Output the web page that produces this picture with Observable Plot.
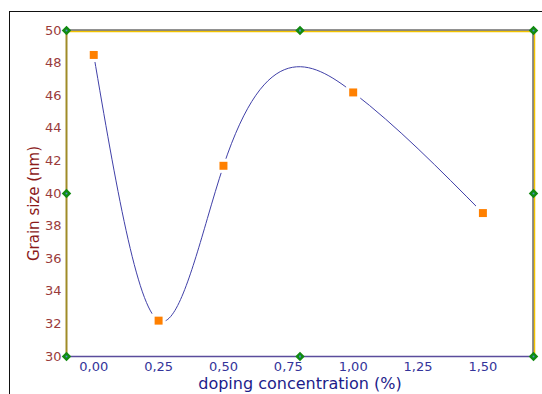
<!DOCTYPE html>
<html>
<head>
<meta charset="utf-8">
<script src="https://cdn.jsdelivr.net/npm/d3@7"></script>
<script src="https://cdn.jsdelivr.net/npm/@observablehq/plot@0.6"></script>
<style>
  html, body { margin: 0; padding: 0; background: #fff; }
  #wrap { position: relative; width: 542px; height: 394px; overflow: hidden; }
  #border { position: absolute; left: 9px; top: 11px; width: 700px; height: 500px;
            border-top: 1.5px solid #111; border-left: 1.5px solid #111; }
  #chart { position: absolute; left: 0; top: 0; }
</style>
</head>
<body>
<div id="wrap"><div id="border"></div><div id="chart"></div></div>
<script>
// Data
const dopingConcentration = [0, 0.25, 0.5, 1.0, 1.5];
const grainSize = [48.5, 32.2, 41.7, 46.2, 38.8];
const xTicks = [0, 0.25, 0.5, 0.75, 1.0, 1.25, 1.5];
const yTicks = [30, 32, 34, 36, 38, 40, 42, 44, 46, 48, 50];
const xDomain = [-0.105, 1.695];
const yDomain = [30, 50];
const xTitle = "doping concentration (%)";
const yTitle = "Grain size (nm)";

const points = dopingConcentration.map((x, i) => ({x, y: grainSize[i]}));

// frame handles (corners and mid-sides)
const xMid = (xDomain[0] + xDomain[1]) / 2;
const yMid = (yDomain[0] + yDomain[1]) / 2;
const handles = [];
for (const hx of [xDomain[0], xMid, xDomain[1]])
  for (const hy of [yDomain[0], yMid, yDomain[1]])
    if (!(hx === xMid && hy === yMid)) handles.push({x: hx, y: hy});

// natural cubic spline in x (y as a function of x)
function naturalX(context) {
  let xs, ys;
  return {
    areaStart() {}, areaEnd() {},
    lineStart() { xs = []; ys = []; },
    point(x, y) { xs.push(+x); ys.push(+y); },
    lineEnd() {
      const n = xs.length;
      if (!n) return;
      context.moveTo(xs[0], ys[0]);
      if (n === 1) return;
      if (n === 2) { context.lineTo(xs[1], ys[1]); return; }
      const h = [], d = [];
      for (let i = 0; i < n - 1; i++) { h[i] = xs[i + 1] - xs[i]; d[i] = (ys[i + 1] - ys[i]) / h[i]; }
      const M = new Array(n).fill(0);
      const a = [], b = [], c = [], r = [];
      for (let i = 1; i < n - 1; i++) { a[i] = h[i - 1]; b[i] = 2 * (h[i - 1] + h[i]); c[i] = h[i]; r[i] = 6 * (d[i] - d[i - 1]); }
      for (let i = 2; i < n - 1; i++) { const w = a[i] / b[i - 1]; b[i] -= w * c[i - 1]; r[i] -= w * r[i - 1]; }
      M[n - 2] = r[n - 2] / b[n - 2];
      for (let i = n - 3; i >= 1; i--) M[i] = (r[i] - c[i] * M[i + 1]) / b[i];
      for (let i = 0; i < n - 1; i++) {
        const s0 = d[i] - h[i] * (2 * M[i] + M[i + 1]) / 6;
        const s1 = d[i] + h[i] * (M[i] + 2 * M[i + 1]) / 6;
        context.bezierCurveTo(xs[i] + h[i] / 3, ys[i] + h[i] / 3 * s0,
                              xs[i + 1] - h[i] / 3, ys[i + 1] - h[i] / 3 * s1,
                              xs[i + 1], ys[i + 1]);
      }
    }
  };
}

const fmtX = d => d.toFixed(2).replace(".", ",");

const chart = Plot.plot({
  width: 542,
  height: 394,
  marginLeft: 66,
  marginRight: 9,
  marginTop: 30,
  marginBottom: 38,
  style: {fontFamily: "'DejaVu Sans', sans-serif", background: "transparent", overflow: "visible"},
  x: {domain: xDomain},
  y: {domain: yDomain},
  marks: [
    Plot.axisY(yTicks, {tickSize: 0, tickPadding: 5, fontSize: 13, color: "#9a3b3b", label: null}),
    Plot.axisX(xTicks, {tickSize: 0, tickPadding: 5, fontSize: 13, color: "#34349a", tickFormat: fmtX, label: null}),
    Plot.text([yTitle], {frameAnchor: "left", textAnchor: "middle", lineAnchor: "middle", rotate: -90, dx: -32, dy: 10, fontSize: 15, fill: "#8b1a1a"}),
    Plot.text([xTitle], {frameAnchor: "bottom", textAnchor: "middle", lineAnchor: "middle", dy: 27, fontSize: 16, fill: "#1c1c8a"}),
    // curve
    Plot.line(points, {x: "x", y: "y", curve: naturalX, stroke: "#4040a8", strokeWidth: 1}),
    // frame: top and right (dark + yellow)
    Plot.ruleY([yDomain[1]], {stroke: "#f2c200", strokeWidth: 1.5, dy: 1}),
    Plot.ruleY([yDomain[1]], {stroke: "#222", strokeWidth: 1, dy: -0.5}),
    Plot.ruleX([xDomain[1]], {stroke: "#f2c200", strokeWidth: 1.5, dx: 1}),
    Plot.ruleX([xDomain[1]], {stroke: "#222", strokeWidth: 1, dx: -0.5}),
    // left and bottom axis lines
    Plot.ruleX([xDomain[0]], {stroke: "#a08c28", strokeWidth: 2}),
    Plot.ruleY([yDomain[0]], {stroke: "#5a4c9c", strokeWidth: 1.5}),
    // handles
    Plot.dot(handles, {x: "x", y: "y", symbol: "diamond2", fill: "#118a11", r: 4.3}),
    Plot.dot(handles, {x: "x", y: "y", symbol: "square", fill: "#4a90d0", r: 1}),
    // markers with white halo gap
    Plot.dot(points, {x: "x", y: "y", symbol: "square", fill: "white", r: 8}),
    Plot.dot(points, {x: "x", y: "y", symbol: "square", fill: "#ff8000", r: 4.5})
  ]
});
document.getElementById("chart").appendChild(chart);
</script>
</body>
</html>
